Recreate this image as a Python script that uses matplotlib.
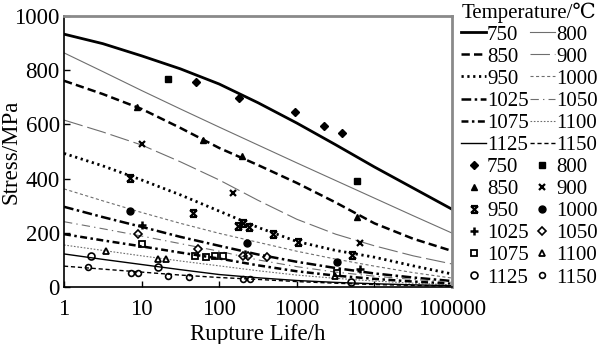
import matplotlib.pyplot as plt
from matplotlib.lines import Line2D
from matplotlib.path import Path

plt.rcParams['font.family'] = ['Liberation Serif', 'DejaVu Serif']
plt.rcParams['lines.scale_dashes'] = False

# fitted creep-rupture curves, stress (MPa) at these rupture lives (h)
life_h = [1, 3.16, 10, 31.6, 100, 316, 1000, 3162, 10000, 31623, 100000]
fit_750 = [933, 898, 853, 805, 749, 680, 605, 525, 443, 365, 287]
fit_800 = [864, 795, 725, 657, 590, 524, 458, 393, 328, 263, 199]
fit_850 = [761, 712, 657, 587, 513, 450, 384, 312, 235, 178, 133]
fit_900 = [616, 572, 524, 462, 395, 320, 250, 195, 152, 115, 85]
fit_950 = [493, 447, 395, 340, 280, 220, 168, 135, 110, 78, 48]
fit_1000 = [362, 318, 275, 235, 198, 165, 132, 103, 77, 53, 33]
fit_1025 = [296, 258, 222, 185, 152, 120, 93, 70, 50, 35, 22]
fit_1050 = [241, 215, 188, 160, 132, 100, 75, 55, 40, 28, 18]
fit_1075 = [195, 172, 150, 127, 105, 80, 58, 42, 30, 20, 12]
fit_1100 = [155, 135, 115, 96, 78, 60, 44, 32, 22, 14, 8]
fit_1125 = [122, 102, 83, 64, 46, 34, 24, 17, 12, 8, 5]
fit_1150 = [77, 66, 55, 44, 35, 28, 20, 14, 9, 6, 3]

# test results: rupture life (h) and stress (MPa)
t_750 = [50, 180, 950, 2240, 3860]
s_750 = [758, 696, 645, 595, 569]
t_800 = [22, 5900]
s_800 = [768, 392]
t_850 = [8.8, 62, 195, 5900]
s_850 = [663, 542, 483, 258]
t_900 = [10, 149, 6500]
s_900 = [528, 348, 162]
t_950 = [7.1, 46, 176, 200, 245, 490, 1050, 5100]
s_950 = [401, 274, 225, 236, 223, 196, 165, 117]
t_1000 = [7.1, 226, 3330]
s_1000 = [279, 163, 92]
t_1025 = [10, 6500]
s_1025 = [229, 68]
t_1050 = [9.1, 53, 200, 237, 415]
s_1050 = [195, 139, 114, 114, 112]
t_1075 = [10, 49, 68, 89, 112, 3330]
s_1075 = [160, 113, 112, 114, 113, 50]
t_1100 = [3.5, 16.4, 20.6, 3100]
s_1100 = [133, 104, 104, 40]
t_1125 = [2.2, 16.4, 5000]
s_1125 = [114, 73, 18]
t_1150 = [2.06, 7.4, 9.1, 22, 41, 200, 250]
s_1150 = [72, 53, 53, 41, 38, 31, 29]

temps = [750, 800, 850, 900, 950, 1000, 1025, 1050, 1075, 1100, 1125, 1150]
fits = [fit_750, fit_800, fit_850, fit_900, fit_950, fit_1000,
        fit_1025, fit_1050, fit_1075, fit_1100, fit_1125, fit_1150]
tests = [(t_750, s_750), (t_800, s_800), (t_850, s_850), (t_900, s_900),
         (t_950, s_950), (t_1000, s_1000), (t_1025, s_1025), (t_1050, s_1050),
         (t_1075, s_1075), (t_1100, s_1100), (t_1125, s_1125), (t_1150, s_1150)]

# hourglass-x marker used for 950
bowtie = Path([(-1, -1), (1, 1), (-1, 1), (1, -1), (-1, 1), (1, 1), (-1, -1), (1, -1)],
              [Path.MOVETO, Path.LINETO] * 4)

gray = '#6e6e6e'
line_styles = [
    dict(color='k', lw=2.0, ls='-'),
    dict(color=gray, lw=0.8, ls='-'),
    dict(color='k', lw=1.8, ls=(0, (6, 3))),
    dict(color=gray, lw=0.8, ls=(0, (14, 3.5))),
    dict(color='k', lw=2.0, ls=(0, (1.6, 2.6))),
    dict(color=gray, lw=0.8, ls=(0, (2.2, 1.8))),
    dict(color='k', lw=1.8, ls=(0, (7, 2.5, 1.8, 2.5))),
    dict(color=gray, lw=0.8, ls=(0, (6, 3, 1, 3))),
    dict(color='k', lw=1.8, ls=(0, (5, 2.5, 1.8, 2.5))),
    dict(color=gray, lw=0.8, ls=(0, (1.2, 1.2))),
    dict(color='k', lw=1.0, ls='-'),
    dict(color='k', lw=1.0, ls=(0, (3, 2))),
]
marker_styles = [
    dict(marker='D', ms=3.6, mfc='k', mec='k'),
    dict(marker='s', ms=4.6, mfc='k', mec='k'),
    dict(marker='^', ms=5.0, mfc='k', mec='k'),
    dict(marker='x', ms=5.0, mec='k', mew=1.6),
    dict(marker=bowtie, ms=5.0, mfc='none', mec='k', mew=1.6),
    dict(marker='o', ms=5.0, mfc='k', mec='k'),
    dict(marker='+', ms=6.0, mec='k', mew=1.8),
    dict(marker='D', ms=3.6, mfc='none', mec='k', mew=1.2),
    dict(marker='s', ms=5.0, mfc='none', mec='k', mew=1.3),
    dict(marker='^', ms=5.0, mfc='none', mec='k', mew=1.3),
    dict(marker='o', ms=5.0, mfc='none', mec='k', mew=1.2),
    dict(marker='o', ms=4.2, mfc='none', mec='k', mew=1.2),
]

fig = plt.figure(figsize=(6.03, 3.44), dpi=100)
ax = fig.add_axes([64 / 603, 57 / 344, 388 / 603, 271 / 344])

for fit, st in zip(fits, line_styles):
    ax.plot(life_h, fit, **st)
for (t, s), mk in zip(tests, marker_styles):
    ax.plot(t, s, ls='none', **mk)

ax.set_xscale('log')
ax.set_xlim(1, 100000)
ax.set_ylim(0, 1000)
ax.set_xticks([1, 10, 100, 1000, 10000, 100000])
ax.set_xticklabels(['1', '10', '100', '1000', '10000', '100000'])
ax.xaxis.set_minor_locator(plt.NullLocator())
ax.set_yticks([0, 200, 400, 600, 800, 1000])
ax.tick_params(direction='in', length=4, width=1, labelsize=16.5, pad=3)
ax.tick_params(axis='x', pad=8.5)
for side in ['top', 'right']:
    ax.spines[side].set_color('#8a8a8a')
    ax.spines[side].set_linewidth(2)
for side in ['left', 'bottom']:
    ax.spines[side].set_linewidth(1.2)
ax.set_xlabel('Rupture Life/h', fontsize=16.5, labelpad=3)
ax.set_ylabel('Stress/MPa', fontsize=16.5)
ax.yaxis.set_label_coords(-(64 - 21) / 388, 0.5)

# legend: six line samples then six marker samples in each column
line_h = [Line2D([], [], **st) for st in line_styles]
mark_h = [Line2D([], [], ls='none', **mk) for mk in marker_styles]
col1 = list(range(0, 12, 2))
col2 = list(range(1, 12, 2))
handles = [line_h[i] for i in col1] + [mark_h[i] for i in col1] + \
          [line_h[i] for i in col2] + [mark_h[i] for i in col2]
labels = [str(temps[i]) for i in col1] * 2 + [str(temps[i]) for i in col2] * 2
ax.legend(handles, labels, ncol=2, loc='upper left',
          bbox_to_anchor=(459 / 603, 1.0), bbox_transform=fig.transFigure,
          frameon=False, title='Temperature/\u2103', title_fontsize=15,
          fontsize=15, handlelength=1.2, handletextpad=0.05,
          columnspacing=0.05, labelspacing=0.12, borderpad=0.1,
          borderaxespad=0)

fig.savefig('out.png', dpi=100)
